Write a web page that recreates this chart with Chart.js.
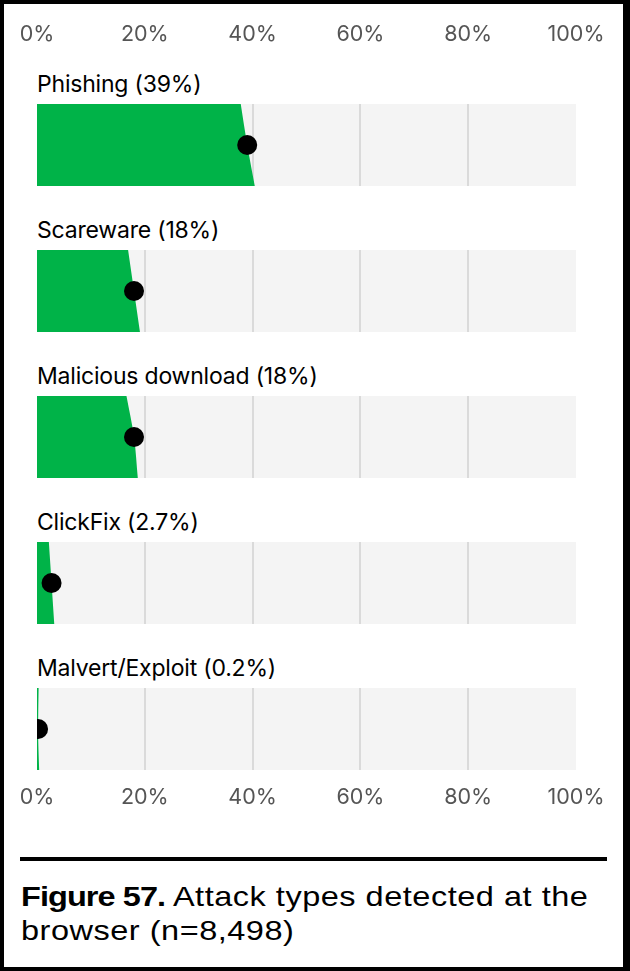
<!DOCTYPE html>
<html>
<head>
<meta charset="utf-8">
<script src="https://cdn.jsdelivr.net/npm/chart.js@4.4.0/dist/chart.umd.min.js"></script>
<style>
  html, body { margin: 0; padding: 0; background: #fff; }
  body { width: 630px; height: 971px; position: relative; overflow: hidden; font-family: Inter, sans-serif; }
  .frame { position: absolute; left: 0; top: 0; width: 630px; height: 971px; box-sizing: border-box; border: solid #000; border-width: 4px 7px 4px 4px; pointer-events: none; }
  .box { position: absolute; left: 0; width: 630px; }
  .label { position: absolute; left: 37px; font-size: 23px; line-height: 23px; color: #000; letter-spacing: -0.2px; white-space: nowrap; }
  .rule { position: absolute; left: 20px; top: 857px; width: 587px; height: 4px; background: #000; }
  .caption { position: absolute; left: 21px; top: 880px; font-family: "Liberation Sans", Arial, sans-serif; font-size: 28px; line-height: 34px; color: #000; white-space: nowrap; letter-spacing: 0.45px; transform: scaleX(1.16); transform-origin: 0 0; }
  .caption b { letter-spacing: -0.8px; }
</style>
</head>
<body>
<div id="panels"></div>
<div class="rule"></div>
<div class="caption"><b>Figure 57.</b> Attack types detected at the<br>browser (n=8,498)</div>
<div class="frame"></div>
<script>
const categories = ["Phishing", "Scareware", "Malicious download", "ClickFix", "Malvert/Exploit"];
const shares = [39, 18, 18, 2.7, 0.2];
// where the green edge sits at the top and at the bottom of each bar (%)
const edgeTop = [37.8, 16.9, 16.6, 2.2, 0.3];
const edgeBottom = [40.4, 19.1, 18.7, 3.2, 0.4];
const tickValues = [0, 20, 40, 60, 80, 100];

const GREEN = "#00b348";
const PAD = { left: 37, right: 54, top: 0, bottom: 0 };

function addBox(top, height) {
    const div = document.createElement("div");
    div.className = "box";
    div.style.top = top + "px";
    div.style.height = height + "px";
    const canvas = document.createElement("canvas");
    div.appendChild(canvas);
    document.getElementById("panels").appendChild(div);
    return canvas;
}

const barBg = {
    id: "barBg",
    beforeDraw(chart) {
        const a = chart.chartArea;
        const ctx = chart.ctx;
        ctx.save();
        ctx.fillStyle = "#f4f4f4";
        ctx.fillRect(a.left, a.top, a.right - a.left, a.bottom - a.top);
        ctx.restore();
    },
};

function gridColor(ctx) {
    const v = ctx.tick && ctx.tick.value;
    return v === 0 || v === 100 ? "rgba(0,0,0,0)" : "#dadada";
}

categories.forEach((name, i) => {
    const top = 104 + i * 146.1;

    const label = document.createElement("div");
    label.className = "label";
    label.style.top = top - 31 + "px";
    label.textContent = `${name} (${shares[i]}%)`;
    document.getElementById("panels").appendChild(label);

    new Chart(addBox(top, 82), {
        type: "line",
        data: {
            datasets: [
                {
                    data: [{ x: shares[i], y: 0.5 }],
                    pointRadius: 10,
                    pointBackgroundColor: "#000",
                    pointBorderWidth: 0,
                    showLine: false,
                    clip: 0,
                    order: 0,
                },
                {
                    indexAxis: "y",
                    data: [
                        { x: edgeTop[i], y: 1 },
                        { x: shares[i], y: 0.5 },
                        { x: edgeBottom[i], y: 0 },
                    ],
                    fill: "origin",
                    backgroundColor: GREEN,
                    borderWidth: 0,
                    pointRadius: 0,
                    cubicInterpolationMode: "monotone",
                    order: 1,
                },
            ],
        },
        options: {
            responsive: true,
            maintainAspectRatio: false,
            animation: false,
            layout: { padding: PAD, autoPadding: false },
            plugins: { legend: { display: false }, tooltip: { enabled: false } },
            scales: {
                x: {
                    type: "linear",
                    min: 0,
                    max: 100,
                    afterBuildTicks: (axis) => (axis.ticks = tickValues.map((v) => ({ value: v }))),
                    ticks: { display: false },
                    grid: { drawTicks: false, lineWidth: 2, color: gridColor },
                    border: { display: false },
                },
                y: { type: "linear", min: 0, max: 1, display: false },
            },
        },
        plugins: [barBg],
    });
});

function makeAxis(top) {
    new Chart(addBox(top, 60), {
        type: "line",
        data: { datasets: [] },
        options: {
            responsive: true,
            maintainAspectRatio: false,
            animation: false,
            layout: { padding: PAD, autoPadding: false },
            plugins: { legend: { display: false }, tooltip: { enabled: false } },
            scales: {
                x: {
                    type: "linear",
                    min: 0,
                    max: 100,
                    afterBuildTicks: (axis) => (axis.ticks = tickValues.map((v) => ({ value: v }))),
                    ticks: {
                        padding: 0,
                        maxRotation: 0,
                        autoSkip: false,
                        color: "#555",
                        font: { family: "Inter", size: 21.5 },
                        callback: (v) => v + "%",
                    },
                    grid: { display: false },
                    border: { display: false },
                },
                y: { display: false },
            },
        },
    });
}

makeAxis(-16);
makeAxis(747);
</script>
</body>
</html>
